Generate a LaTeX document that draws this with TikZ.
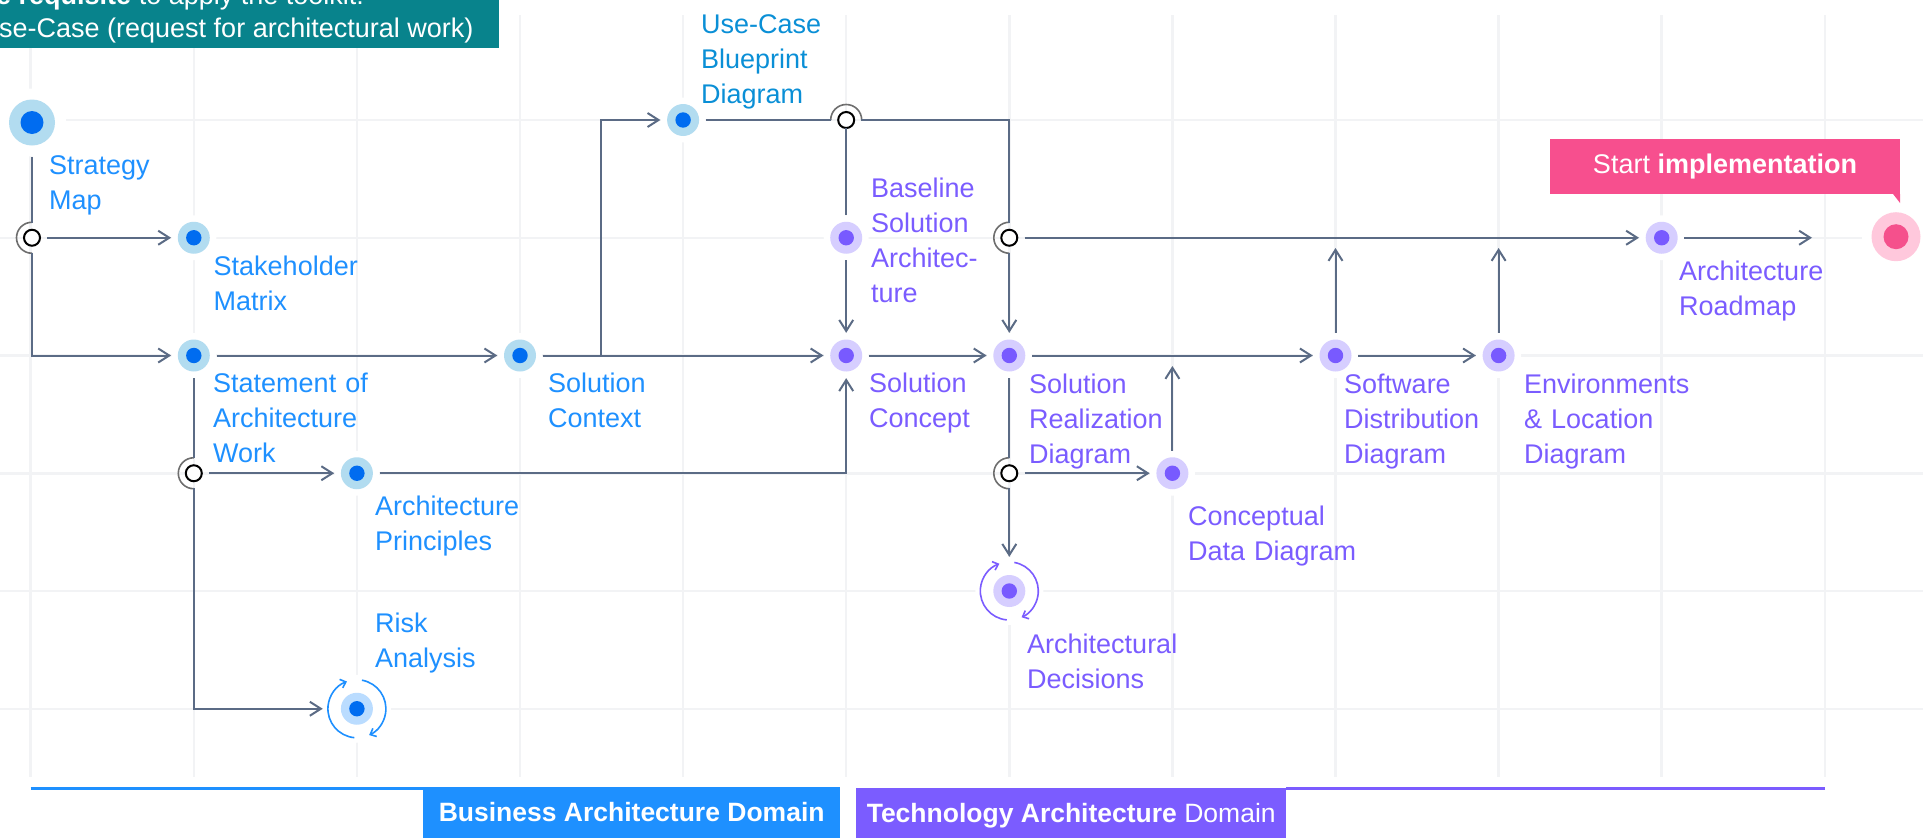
\documentclass[tikz,border=0pt]{standalone}
\usepackage{fontspec}
\setmainfont{Liberation Sans}
\usetikzlibrary{arrows.meta}
\definecolor{gridc}{RGB}{242,243,245}
\definecolor{connc}{RGB}{91,107,133}
\definecolor{bizblue}{RGB}{30,144,255}
\definecolor{ucblue}{RGB}{10,143,214}
\definecolor{bOut}{RGB}{178,220,240}
\definecolor{bIn}{RGB}{0,108,240}
\definecolor{rOut}{RGB}{186,220,255}
\definecolor{pText}{RGB}{122,92,255}
\definecolor{pOut}{RGB}{214,206,255}
\definecolor{pIn}{RGB}{120,90,255}
\definecolor{pkOut}{RGB}{255,200,220}
\definecolor{pkIn}{RGB}{245,80,140}
\definecolor{pkBox}{RGB}{247,79,142}
\definecolor{tealbox}{RGB}{8,131,140}
\definecolor{techp}{RGB}{123,92,255}
\definecolor{jarcc}{RGB}{110,110,110}
\tikzset{
  gridline/.style={draw=gridc, line width=2.5pt},
  halo/.style={circle, draw=none, fill=white, inner sep=0pt, minimum size=45pt},
  bnode/.style={halo, path picture={
      \fill[bOut] (path picture bounding box.center) circle[radius=16];
      \fill[bIn] (path picture bounding box.center) circle[radius=7.7];}},
  pnode/.style={halo, path picture={
      \fill[pOut] (path picture bounding box.center) circle[radius=16];
      \fill[pIn] (path picture bounding box.center) circle[radius=7.7];}},
  bignode/.style={halo, minimum size=68pt, path picture={
      \fill[bOut] (path picture bounding box.center) circle[radius=23];
      \fill[bIn] (path picture bounding box.center) circle[radius=11.5];}},
  endnode/.style={halo, minimum size=68pt, path picture={
      \fill[pkOut] (path picture bounding box.center) circle[radius=24.5];
      \fill[pkIn] (path picture bounding box.center) circle[radius=12.5];}},
  risknode/.style={halo, minimum size=68pt, path picture={
      \fill[rOut] (path picture bounding box.center) circle[radius=16];
      \fill[bIn] (path picture bounding box.center) circle[radius=7.7];}},
  adnode/.style={halo, minimum size=68pt, path picture={
      \fill[pOut] (path picture bounding box.center) circle[radius=16];
      \fill[pIn] (path picture bounding box.center) circle[radius=7.7];}},
  junc/.style={circle, draw=none, inner sep=0pt, minimum size=30pt},
  jarc/.style={draw=jarcc, line width=1.6pt},
  jcirc/.style={draw=black, fill=white, line width=2pt},
  conn/.style={draw=connc, line width=2pt, arrows={-}},
  arr/.style={-{Straight Barb[length=11pt,width=14pt]}},
  cyc/.style={draw=#1, line width=1.6pt, -{Straight Barb[length=5pt,width=9pt]}},
  lbl/.style={anchor=base west, align=left, text width=260pt, inner sep=0pt,
      font=\fontsize{27}{35}\selectfont},
  hdr/.style={anchor=base west, inner sep=0pt, text=white, font=\fontsize{27}{33}\selectfont},
  dombox/.style={rectangle, anchor=north west, inner sep=0pt, text=white,
      minimum height=55pt, text height=19pt, text depth=6pt,
      font=\fontsize{26.5}{30}\selectfont},
  callbox/.style={rectangle, fill=pkBox, text=white, inner sep=0pt,
      minimum width=350pt, minimum height=55pt, text height=19pt, text depth=6pt,
      font=\fontsize{27}{32}\selectfont},
  domline/.style={draw=#1, line width=3pt}
}
\newcommand{\junc}[5]{%
  \node[junc] (#1) at (#2,#3) {};
  \draw[jarc] (#1.center) ++(#4:15.5) arc[start angle=#4, end angle=#5, radius=15.5];
  \draw[jcirc] (#1.center) circle[radius=8];}
\begin{document}
\begin{tikzpicture}[x=1pt,y=-1pt]
\useasboundingbox (0,0) rectangle (1923,838);
% grid
\foreach \i in {0,...,11} \draw[gridline] ({30.7+163.1*\i},15) -- ({30.7+163.1*\i},777);
\foreach \yy in {120,237.75,355.5,473.25,591,708.75} \draw[gridline] (0,\yy) -- (1923,\yy);
% header
\node[fill=tealbox, draw=none, anchor=north west, minimum width=499pt, minimum height=47.5pt, inner sep=0pt] (hb) at (0,0) {};
\node[hdr] (h1) at (-4,4) {\textbf{e requisite} to apply the toolkit:};
\node[hdr] (h2) at (-1,37) {se-Case (request for architectural work)};
% nodes
\node[bignode] (sm) at (32,122.5) {};
\node[bnode] (shm) at (193.8,237.75) {};
\node[bnode] (saw) at (193.8,355.5) {};
\node[bnode] (ctx) at (520,355.5) {};
\node[bnode] (ucb) at (683.1,120) {};
\node[bnode] (ap) at (356.9,473.25) {};
\node[risknode] (ra) at (356.9,708.75) {};
\node[pnode] (bsa) at (846.2,237.75) {};
\node[pnode] (sc) at (846.2,355.5) {};
\node[pnode] (srd) at (1009.3,355.5) {};
\node[pnode] (cdd) at (1172.4,473.25) {};
\node[adnode] (ad) at (1009.3,591) {};
\node[pnode] (sdd) at (1335.5,355.5) {};
\node[pnode] (eld) at (1498.6,355.5) {};
\node[pnode] (rm) at (1661.7,237.75) {};
\node[endnode] (fin) at (1896,236.7) {};
% cycle arrows
\draw[cyc=bizblue] (ra.center) ++(95:29) arc[start angle=95, end angle=250, radius=29];
\draw[cyc=bizblue] (ra.center) ++(280:29) arc[start angle=280, end angle=425, radius=29];
\draw[cyc=techp] (ad.center) ++(95:29) arc[start angle=95, end angle=250, radius=29];
\draw[cyc=techp] (ad.center) ++(280:29) arc[start angle=280, end angle=425, radius=29];
% junctions
\junc{J1}{32}{237.75}{270}{90}
\junc{J2}{193.8}{473.25}{270}{90}
\junc{J3}{846.2}{120}{180}{360}
\junc{J4}{1009.3}{237.75}{270}{90}
\junc{J5}{1009.3}{473.25}{270}{90}
% free ends
\coordinate (brk) at (600.7,355.5);
\coordinate (cddup) at (1172.4,366);
\coordinate (sddup) at (1335.5,248);
\coordinate (eldup) at (1498.6,248);
\coordinate (fintip) at (1812,237.75);
% connectors
\draw[conn] (sm) -- (J1);
\draw[conn,arr] (J1) -- (shm);
\draw[conn,arr] (J1) |- (saw);
\draw[conn,arr] (saw) -- (ctx);
\draw[conn] (saw) -- (J2);
\draw[conn,arr] (J2) -- (ap);
\draw[conn,arr] (J2) |- (ra);
\draw[conn,arr] (ap) -| (sc);
\draw[conn,arr] (ctx) -- (sc);
\draw[conn,arr] (ctx) -- (brk) |- (ucb);
\draw[conn] (ucb) -- (J3);
\draw[conn, shorten <=-7pt] (J3) -- (bsa);
\draw[conn,arr] (bsa) -- (sc);
\draw[conn] (J3) -| (J4);
\draw[conn,arr] (J4) -- (srd);
\draw[conn,arr] (J4) -- (rm);
\draw[conn,arr] (sc) -- (srd);
\draw[conn,arr] (srd) -- (sdd);
\draw[conn] (srd) -- (J5);
\draw[conn,arr] (J5) -- (cdd);
\draw[conn,arr] (J5) -- (ad);
\draw[conn,arr] (cdd) -- (cddup);
\draw[conn,arr] (sdd) -- (sddup);
\draw[conn,arr] (sdd) -- (eld);
\draw[conn,arr] (eld) -- (eldup);
\draw[conn,arr] (rm) -- (fintip);
% labels
\node[lbl, text=bizblue] (l-sm) at (49,174) {Strategy\\Map};
\node[lbl, text=bizblue] (l-shm) at (213.5,275) {Stakeholder\\Matrix};
\node[lbl, text=bizblue] (l-saw) at (213,392) {Statement of\\Architecture\\Work};
\node[lbl, text=bizblue] (l-ctx) at (548,392) {Solution\\Context};
\node[lbl, text=ucblue] (l-ucb) at (701,33) {Use-Case\\Blueprint\\Diagram};
\node[lbl, text=bizblue] (l-ap) at (375,515) {Architecture\\Principles};
\node[lbl, text=bizblue] (l-ra) at (375,632) {Risk\\Analysis};
\node[lbl, text=pText] (l-bsa) at (871,197) {Baseline\\Solution\\Architec-\\ture};
\node[lbl, text=pText] (l-sc) at (869,392) {Solution\\Concept};
\node[lbl, text=pText] (l-srd) at (1029,393) {Solution\\Realization\\Diagram};
\node[lbl, text=pText] (l-cdd) at (1188,525) {Conceptual\\Data Diagram};
\node[lbl, text=pText] (l-ad) at (1027,653) {Architectural\\Decisions};
\node[lbl, text=pText] (l-sdd) at (1344,393) {Software\\Distribution\\Diagram};
\node[lbl, text=pText] (l-eld) at (1524,393) {Environments\\\& Location\\Diagram};
\node[lbl, text=pText] (l-rm) at (1679,280) {Architecture\\Roadmap};
% callout
\node[callbox] (cb) at (1725,166.5) {Start \textbf{implementation}};
\fill[pkBox] (cb.south east) -- ++(-7,0) -- ++(7,9) -- cycle;
% domains
\node[dombox, fill=bizblue, minimum width=417pt] (bad) at (423,787) {\textbf{Business Architecture Domain}};
\node[dombox, fill=techp, minimum width=430pt] (tad) at (856,788) {\textbf{Technology Architecture} Domain};
\draw[domline=bizblue] (30.7,788.5) -- (423,788.5);
\draw[domline=techp] (1286,788.5) -- (1824.8,788.5);
\end{tikzpicture}
\end{document}
